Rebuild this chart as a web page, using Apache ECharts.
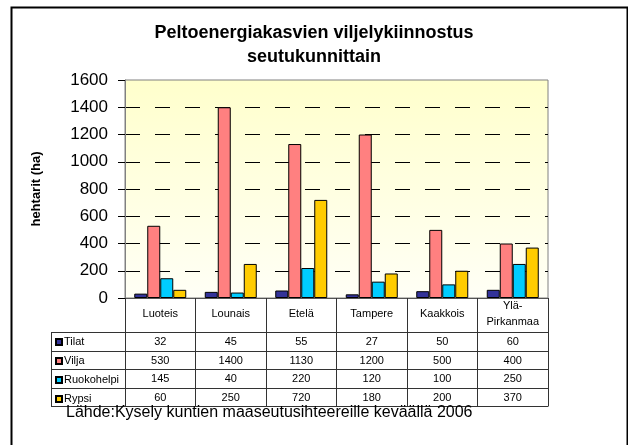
<!DOCTYPE html>
<html>
<head>
<meta charset="utf-8">
<script src="https://cdn.jsdelivr.net/npm/echarts@6/dist/echarts.min.js"></script>
<style>
html,body{margin:0;padding:0;background:#fff;}
#c{width:628px;height:445px;}
</style>
</head>
<body>
<div id="c"></div>
<script>
const titleText = 'Peltoenergiakasvien viljelykiinnostus\nseutukunnittain';
const yAxisTitle = 'hehtarit (ha)';
const sourceText = 'Lähde:Kysely kuntien maaseutusihteereille keväällä 2006';
const categories = ['Luoteis', 'Lounais', 'Etelä', 'Tampere', 'Kaakkois', 'Ylä-\nPirkanmaa'];
const seriesNames = ['Tilat', 'Vilja', 'Ruokohelpi', 'Rypsi'];
const tilat = [32, 45, 55, 27, 50, 60];
const vilja = [530, 1400, 1130, 1200, 500, 400];
const ruokohelpi = [145, 40, 220, 120, 100, 250];
const rypsi = [60, 250, 720, 180, 200, 370];
const yTicks = [0, 200, 400, 600, 800, 1000, 1200, 1400, 1600];
const colors = ['#333399', '#FF8080', '#00CCFF', '#FFCC00'];

const FONT = "'Liberation Sans', Arial, sans-serif";
const G = {left: 125, top: 80, width: 423, height: 218};
const axisY = G.top + G.height;           // 298
const tableLeft = 51;
const rowLines = [332.5, 351.5, 369.5, 388.5, 406.5];
const seriesData = [tilat, vilja, ruokohelpi, rypsi];

const chart = echarts.init(document.getElementById('c'), null, {renderer: 'canvas'});

const rowAxes = seriesData.map((vals, r) => ({
  type: 'category',
  gridIndex: 0,
  position: 'bottom',
  data: vals.map(String),
  axisLine: {show: false},
  axisTick: {show: false},
  splitLine: {show: false},
  axisLabel: {
    interval: 0,
    margin: (rowLines[r] + rowLines[r + 1]) / 2 - axisY,
    verticalAlign: 'middle',
    fontSize: 11,
    fontFamily: FONT,
    color: '#000'
  }
}));

const graphics = [];
// outer border
graphics.push({type: 'rect', silent: true, z: 100,
  shape: {x: 11.5, y: 7.5, width: 616, height: 460},
  style: {fill: null, stroke: '#000', lineWidth: 2}});
// table horizontal lines
rowLines.forEach(y => graphics.push({type: 'line', silent: true, z: 50,
  shape: {x1: tableLeft, y1: y, x2: G.left + G.width, y2: y},
  style: {stroke: '#333', lineWidth: 1}}));
// table left border
graphics.push({type: 'line', silent: true, z: 50,
  shape: {x1: tableLeft + 0.5, y1: rowLines[0], x2: tableLeft + 0.5, y2: rowLines[rowLines.length - 1]},
  style: {stroke: '#333', lineWidth: 1}});
// source text
graphics.push({type: 'text', silent: true, z: 60,
  x: 66, y: 413,
  style: {text: sourceText, font: '16px ' + FONT, fill: '#000', textVerticalAlign: 'middle'}});

const option = {
  backgroundColor: '#fff',
  animation: false,
  title: {
    text: titleText,
    left: 'center',
    top: 21,
    padding: [0, 0, 0, 8],
    textStyle: {fontSize: 18, fontWeight: 'bold', fontFamily: FONT, color: '#000', lineHeight: 24}
  },
  legend: {
    orient: 'vertical',
    left: 55,
    top: rowLines[0],
    itemWidth: 6,
    itemHeight: 6,
    itemGap: 0,
    padding: 0,
    icon: 'rect',
    selectedMode: false,
    data: seriesNames,
    textStyle: {fontSize: 11, fontFamily: FONT, color: '#000', lineHeight: 19, padding: [0, 0, 0, -3]}
  },
  grid: {
    left: G.left, top: G.top, width: G.width, height: G.height,
    show: true,
    borderColor: '#808080',
    borderWidth: 1,
    backgroundColor: {type: 'linear', x: 0, y: 0, x2: 0, y2: 1,
      colorStops: [{offset: 0, color: '#FFFFCC'}, {offset: 1, color: '#FFFFF6'}]}
  },
  xAxis: [{
    type: 'category',
    data: categories,
    position: 'bottom',
    axisLine: {lineStyle: {color: '#555', width: 1}},
    axisTick: {show: true, length: rowLines[rowLines.length - 1] - axisY, lineStyle: {color: '#333'}},
    axisLabel: {
      interval: 0, margin: 16, verticalAlign: 'middle', lineHeight: 16,
      fontSize: 11, fontFamily: FONT, color: '#000'
    }
  }].concat(rowAxes),
  yAxis: {
    type: 'value',
    min: yTicks[0],
    max: yTicks[yTicks.length - 1],
    interval: yTicks[1] - yTicks[0],
    name: yAxisTitle,
    nameLocation: 'middle',
    nameGap: 82,
    nameRotate: 90,
    nameTextStyle: {fontSize: 13, fontWeight: 'bold', fontFamily: FONT, color: '#000'},
    axisLine: {show: true, lineStyle: {color: '#808080'}},
    axisTick: {show: true, length: 7, lineStyle: {color: '#000'}},
    axisLabel: {margin: 17, fontSize: 17, fontFamily: FONT, color: '#000',
      formatter: v => String(v)},
    splitLine: {show: true, showMinLine: false, showMaxLine: false,
      lineStyle: {color: '#000', width: 1, type: [15, 15]}}
  },
  series: seriesNames.map((n, i) => ({
    name: n,
    type: 'bar',
    xAxisIndex: 0,
    data: seriesData[i],
    barWidth: 13,
    barGap: '0%',
    itemStyle: {color: colors[i], borderColor: '#000', borderWidth: 1}
  })),
  graphic: graphics
};
chart.setOption(option);
</script>
</body>
</html>
